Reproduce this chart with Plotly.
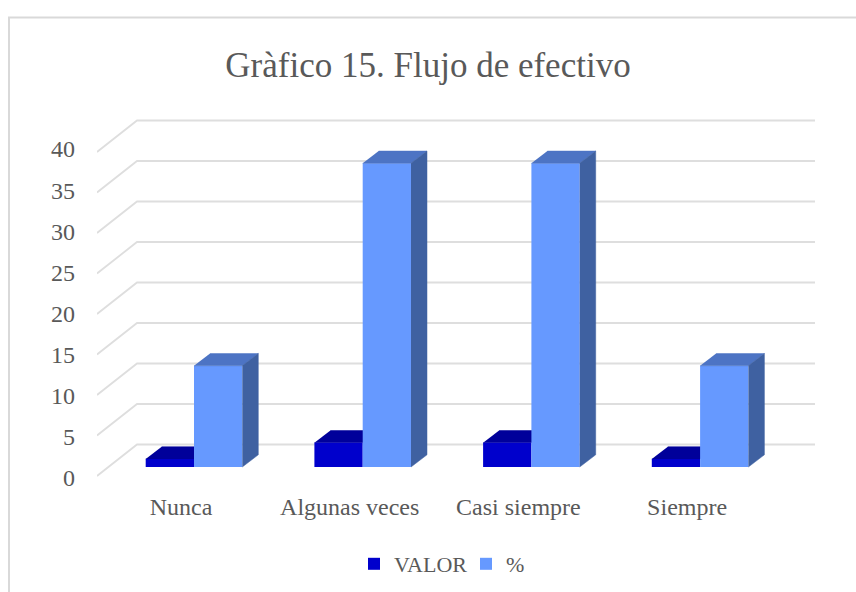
import plotly.graph_objects as go

categories = ["Nunca", "Algunas veces", "Casi siempre", "Siempre"]
valor = [1, 3, 3, 1]
porcentaje = [12.5, 37.5, 37.5, 12.5]
grid_values = [0, 5, 10, 15, 20, 25, 30, 35, 40]

W, H = 856, 592
PL, PR, PT, PB = 97, 815, 100, 482

# pixel calibration of the pseudo-3D projection
X0, XU = 194.0, 168.7
Y0, YU = 467.0, 8.1
xrange_ = [(PL - X0) / XU, (PR - X0) / XU]
yrange_ = [(Y0 - PB) / YU, (Y0 - PT) / YU]
BAR_W = 48.3 / XU
DX_FACE, DY_FACE = 16 / XU, 12.2 / YU      # bar depth
GRID_FRONT = -9.0 / YU                     # front edge of the floor
GRID_BACK = 22.5 / YU                      # back wall
GRID_LEFT = xrange_[0]
GRID_BACK_LEFT = xrange_[0] + 40 / XU
pos = list(range(len(categories)))


def paper_x(px):
    return (px - PL) / (PR - PL)


def paper_y(py):
    return (PB - py) / (PB - PT)


def poly(xs, ys, color, xa, ya):
    return go.Scatter(x=xs, y=ys, mode="lines", fill="toself", fillcolor=color,
                      line=dict(color=color, width=0.5), hoverinfo="skip",
                      showlegend=False, xaxis=xa, yaxis=ya)


fig = go.Figure()

# back wall and left wall grid (bottom layer)
for v in grid_values:
    fig.add_trace(go.Scatter(
        x=[GRID_LEFT, GRID_BACK_LEFT, xrange_[1]],
        y=[v + GRID_FRONT, v + GRID_BACK, v + GRID_BACK],
        mode="lines", line=dict(color="#dedede", width=1.8),
        hoverinfo="skip", showlegend=False, xaxis="x", yaxis="y"))

# depth of the VALOR bars: below the front faces, hidden behind the % bars
for p, v in zip(pos, valor):
    fig.add_trace(poly([p - BAR_W, p, p + DX_FACE, p - BAR_W + DX_FACE],
                       [v, v, v + DY_FACE, v + DY_FACE], "#00009A", "x", "y"))

# front faces
fig.add_trace(go.Bar(name="VALOR", x=pos, y=valor, width=BAR_W, offset=-BAR_W,
                     marker=dict(color="#0000CC", line=dict(width=0)),
                     xaxis="x2", yaxis="y2"))
fig.add_trace(go.Bar(name="%", x=pos, y=porcentaje, width=BAR_W, offset=0,
                     marker=dict(color="#6699FF", line=dict(width=0)),
                     xaxis="x2", yaxis="y2"))

# depth of the % bars
for p, v in zip(pos, porcentaje):
    fig.add_trace(poly([p, p + BAR_W, p + BAR_W + DX_FACE, p + DX_FACE],
                       [v, v, v + DY_FACE, v + DY_FACE], "#4D74C4", "x2", "y2"))
    fig.add_trace(poly([p + BAR_W, p + BAR_W + DX_FACE, p + BAR_W + DX_FACE, p + BAR_W],
                       [0, DY_FACE, v + DY_FACE, v], "#3F61A1", "x2", "y2"))

# axis carrying the value labels, which sit on their own slightly wider spacing
LAB0, LABU = 478.0, (478.0 - 149.0) / 40
fig.add_trace(go.Scatter(x=[None], y=[None], xaxis="x", yaxis="y3",
                         showlegend=False, hoverinfo="skip"))

TICK_FONT = dict(family="Liberation Serif", size=24, color="#595959")

fig.update_layout(
    width=W, height=H, autosize=False,
    margin=dict(l=PL, r=W - PR, t=PT, b=H - PB, pad=0),
    paper_bgcolor="white", plot_bgcolor="rgba(0,0,0,0)",
    barmode="overlay",
    title=dict(text="Gràfico 15. Flujo de efectivo",
               x=428 / W, xanchor="center", y=1 - 65 / H, yanchor="middle",
               font=dict(family="Liberation Serif", size=35, color="#595959")),
    xaxis=dict(range=xrange_, showgrid=False, zeroline=False, showline=False,
               tickmode="array", tickvals=[p - 13 / XU for p in pos], ticktext=categories,
               ticks="", ticklabelstandoff=8, tickfont=TICK_FONT),
    yaxis=dict(range=yrange_, showgrid=False, zeroline=False, showline=False,
               showticklabels=False, ticks=""),
    xaxis2=dict(range=xrange_, overlaying="x", visible=False),
    yaxis2=dict(range=yrange_, overlaying="y", visible=False),
    yaxis3=dict(overlaying="y", anchor="x",
                range=[(LAB0 - PB) / LABU, (LAB0 - PT) / LABU],
                tickmode="array", tickvals=grid_values,
                showgrid=False, zeroline=False, showline=False, ticks="",
                ticklabelstandoff=21, tickfont=TICK_FONT),
    legend=dict(orientation="h", xref="container", yref="container",
                x=354 / W, xanchor="left", y=1 - 564 / H, yanchor="middle",
                font=dict(family="Liberation Serif", size=22, color="#595959"),
                bgcolor="rgba(0,0,0,0)", itemwidth=30, traceorder="normal",
                entrywidth=67, entrywidthmode="pixels"),
    shapes=[dict(type="path", xref="paper", yref="paper",
                 path=f"M {paper_x(9)} {paper_y(592)} L {paper_x(9)} {paper_y(17.5)} L {paper_x(856)} {paper_y(17.5)}",
                 line=dict(color="#d9d9d9", width=2))],
)

fig.write_html("out.html", config=dict(displayModeBar=False),
               post_script="document.body.style.margin='0';document.body.style.overflow='hidden';")
